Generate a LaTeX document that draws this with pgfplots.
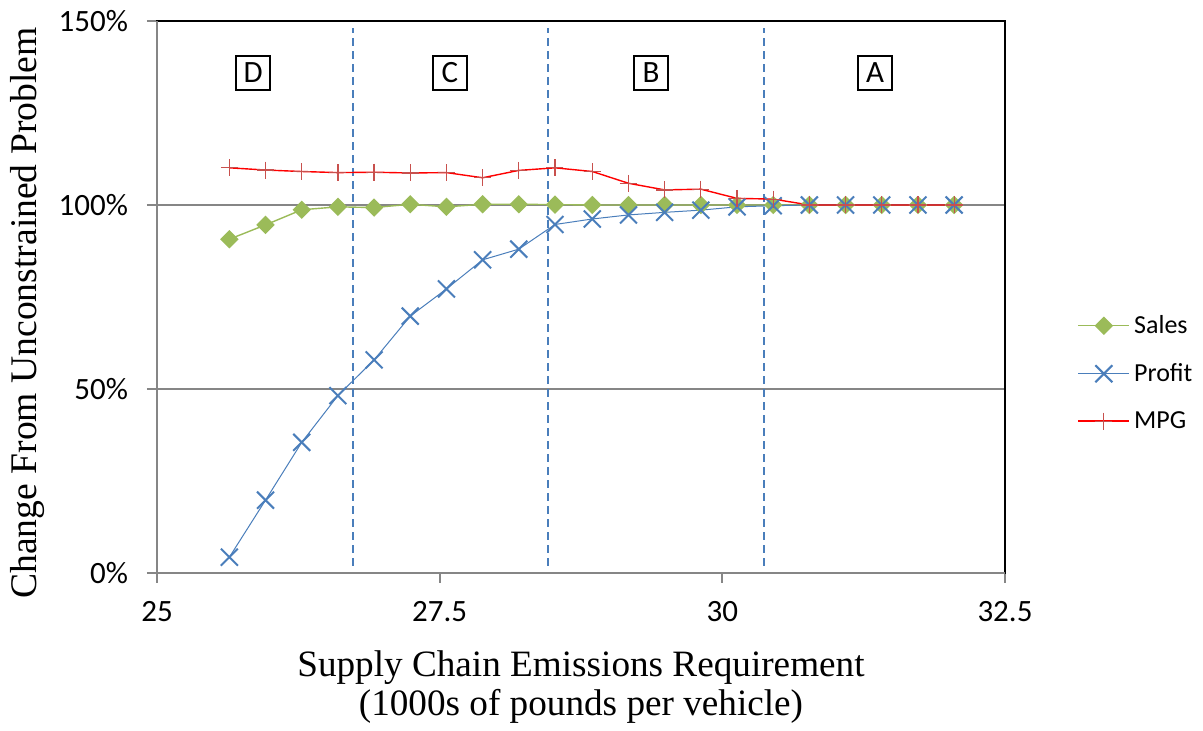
\documentclass[border=0pt]{standalone}
\usepackage{fontspec}
\setmainfont{Liberation Serif}
\newfontfamily\calfont{Carlito}
\usepackage{pgfplots}
\pgfplotsset{compat=1.18}
\usetikzlibrary{calc}
\definecolor{salesgreen}{HTML}{9BBB59}
\definecolor{profitblue}{HTML}{4A7EBB}
\definecolor{mpgred}{HTML}{FF0000}
\definecolor{mpgmark}{HTML}{C8504D}
\definecolor{axisgray}{HTML}{868686}
\definecolor{zoneblue}{HTML}{4A7EBB}

\begin{document}
\begin{tikzpicture}
\begin{axis}[name=ax, scale only axis, width=424pt, height=276pt,
  xmin=25, xmax=32.5, ymin=0, ymax=150,
  xtick={25,27.5,30,32.5}, xticklabels={25,27.5,30,32.5},
  ytick={0,50,100,150}, yticklabels={0\%,50\%,100\%,150\%},
  tick align=outside, xtick pos=left, ytick pos=left,
  major tick length=5pt, tick style={axisgray, line width=1pt},
  ticklabel style={font=\calfont\fontsize{15.5}{17}\selectfont},
  xticklabel style={yshift=-5.5pt},
  yticklabel style={xshift=-6pt},
  /pgf/number format/assume math mode=true,
  ymajorgrids, grid style={axisgray, line width=1pt},
  axis line style={black, line width=1pt},
  xlabel={Supply Chain Emissions Requirement\\(1000s of pounds per vehicle)},
  xlabel style={font=\fontsize{18.6}{19.2}\selectfont, align=center,
    at={(axis description cs:0.5,-0.2065)}, anchor=center},
  ylabel={Change From Unconstrained Problem},
  ylabel style={font=\fontsize{18.8}{19}\selectfont,
    at={(axis description cs:-0.153,0.471)}, anchor=center},
  legend style={draw=none, fill=none, font=\calfont\fontsize{13}{15}\selectfont,
    at={(1.078,0.362)}, anchor=west, row sep=9.5pt},
  legend cell align=left,
  legend image code/.code={\draw[mark repeat=2,mark phase=2,#1]
    plot coordinates {(0cm,0cm)(0.45cm,0cm)(0.9cm,0cm)};},
  clip=false
]
% regime boundaries
\addplot[zoneblue, line width=1pt, dash pattern=on 4pt off 2.5pt, forget plot]
  coordinates {(26.73,2) (26.73,148)};
\addplot[zoneblue, line width=1pt, dash pattern=on 4pt off 2.5pt, forget plot]
  coordinates {(28.46,2) (28.46,148)};
\addplot[zoneblue, line width=1pt, dash pattern=on 4pt off 2.5pt, forget plot]
  coordinates {(30.37,2) (30.37,148)};

\addplot[salesgreen, line width=0.7pt, mark=square*,
  mark options={rotate=45, mark size=2.9pt, fill=salesgreen, draw=salesgreen}]
  coordinates {(25.64,90.7) (25.96,94.6) (26.28,98.7) (26.60,99.5) (26.92,99.3)
    (27.24,100.2) (27.56,99.5) (27.88,100.2) (28.20,100.2) (28.52,100.1)
    (28.85,100) (29.17,100) (29.49,100) (29.81,100) (30.13,100) (30.45,100)
    (30.77,100) (31.09,100) (31.41,100) (31.73,100) (32.05,100)};
\addlegendentry{Sales}

\addplot[profitblue, line width=0.5pt, mark=x,
  mark options={mark size=6pt, line width=1pt}]
  coordinates {(25.64,4.3) (25.96,19.8) (26.28,35.5) (26.60,48.2) (26.92,57.9)
    (27.24,69.8) (27.56,77.2) (27.88,85.1) (28.20,88.0) (28.52,94.7)
    (28.85,96.2) (29.17,97.3) (29.49,98.0) (29.81,98.6) (30.13,99.5) (30.45,99.8)
    (30.77,100) (31.09,100) (31.41,100) (31.73,100) (32.05,100)};
\addlegendentry{Profit}

\addplot[mpgred, line width=0.7pt, mark=+,
  mark options={mark size=4.25pt, line width=0.6pt, draw=mpgmark}]
  coordinates {(25.64,110.1) (25.96,109.5) (26.28,109.1) (26.60,108.8) (26.92,108.9)
    (27.24,108.7) (27.56,108.8) (27.88,107.4) (28.20,109.4) (28.52,110.1)
    (28.85,109.1) (29.17,105.9) (29.49,104.1) (29.81,104.3) (30.13,101.8) (30.45,101.6)
    (30.77,100) (31.09,100) (31.41,100) (31.73,100) (32.05,100)};
\addlegendentry{MPG}

% left and bottom axis lines in gray
\draw[axisgray, line width=1pt] (rel axis cs:0,1) -- (rel axis cs:0,0) -- (rel axis cs:1,0);

\tikzset{regime/.style={draw=black, line width=1pt, inner sep=0pt,
  minimum width=17pt, minimum height=17pt, font=\calfont\fontsize{15.5}{17}\selectfont}}
\node[regime] at (axis cs:25.85,135.9) {D};
\node[regime] at (axis cs:27.59,135.9) {C};
\node[regime] at (axis cs:29.37,135.9) {B};
\node[regime] at (axis cs:31.35,135.9) {A};
\end{axis}
\pgfresetboundingbox
\path[use as bounding box] ($(ax.south west)+(-78.5pt,-79pt)$) rectangle ($(ax.south west)+(523pt,286.5pt)$);
\end{tikzpicture}
\end{document}
